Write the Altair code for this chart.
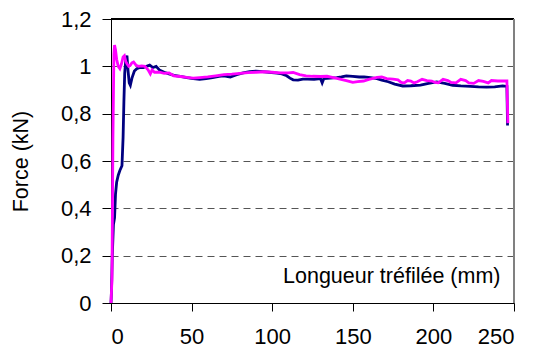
import altair as alt
import pandas as pd

# Navy series (longueur mm, force kN)
navy_x = [0.0, 0.3, 0.8, 1.5, 2.2, 2.8, 3.5, 4.5, 5.5, 6.8, 7.5, 8.0, 8.5, 9.2, 9.9, 10.6, 11.3, 12.0,
          13.0, 14.5, 16.0, 18.0, 20.0, 22.0, 24.0, 26.0, 28.0, 30.0, 33.0, 36.0, 39.0, 43.0, 47.0, 51.0,
          55.0, 59.0, 63.0, 67.0, 70.0, 74.0, 78.0, 82.0, 86.0, 90.0, 94.0, 98.0, 103.0, 106.0, 109.0,
          111.0, 113.0, 116.0, 119.0, 122.0, 126.0, 130.0, 131.0, 132.0, 136.0, 140.0, 143.0, 146.0,
          150.0, 154.0, 157.0, 161.0, 165.0, 168.0, 172.0, 176.0, 181.0, 186.0, 192.0, 197.0, 202.0,
          207.0, 212.0, 217.0, 223.0, 228.0, 233.0, 238.0, 243.0, 245.6, 246.0]
navy_y = [0.0, 0.05, 0.2, 0.33, 0.36, 0.46, 0.51, 0.54, 0.56, 0.58, 0.7, 0.85, 0.97, 1.03, 1.045, 0.98,
          0.93, 0.92, 0.95, 0.98, 0.99, 0.995, 0.995, 1.0, 1.005, 0.995, 1.0, 0.985, 0.975, 0.968, 0.962,
          0.958, 0.952, 0.948, 0.945, 0.948, 0.952, 0.958, 0.96, 0.955, 0.965, 0.972, 0.978, 0.98, 0.978,
          0.975, 0.971, 0.968, 0.96, 0.95, 0.943, 0.942, 0.946, 0.946, 0.945, 0.948, 0.93, 0.948, 0.95,
          0.952, 0.955, 0.96, 0.958, 0.955, 0.955, 0.952, 0.948, 0.942, 0.935, 0.925, 0.917, 0.918, 0.921,
          0.928, 0.934, 0.928, 0.92, 0.917, 0.915, 0.913, 0.912, 0.913, 0.917, 0.915, 0.75]

# Magenta series
mag_x = [0.0, 0.6, 1.2, 1.8, 2.2, 2.8, 3.5, 4.5, 5.5, 6.5, 7.5, 8.3, 9.2, 10.0, 11.0, 12.0, 13.0, 14.0,
         15.5, 17.0, 19.0, 21.0, 23.0, 24.4, 25.5, 27.0, 30.0, 33.0, 36.0, 39.0, 43.0, 47.0, 51.0, 55.0,
         60.0, 65.0, 70.0, 75.0, 80.0, 85.0, 90.0, 95.0, 100.0, 105.0, 110.0, 113.0, 117.0, 121.0, 125.0,
         130.0, 134.0, 138.0, 142.0, 146.0, 150.0, 153.0, 156.7, 160.0, 165.0, 168.0, 171.0, 175.0, 178.0,
         180.0, 182.0, 184.0, 186.0, 188.0, 190.0, 193.0, 196.0, 199.0, 201.0, 203.0, 206.0, 209.0, 211.0,
         214.0, 217.0, 220.0, 222.0, 225.0, 228.0, 231.0, 234.0, 236.0, 240.0, 245.6, 246.2]
mag_y = [0.0, 0.1, 0.7, 1.05, 1.09, 1.07, 1.03, 1.0, 0.99, 1.01, 1.04, 1.045, 1.02, 1.01, 1.0, 1.005,
         1.015, 1.018, 1.005, 1.0, 1.002, 1.0, 0.985, 0.968, 0.985, 0.975, 0.975, 0.97, 0.972, 0.96, 0.957,
         0.953, 0.95, 0.952, 0.955, 0.96, 0.965, 0.967, 0.97, 0.973, 0.975, 0.977, 0.975, 0.972, 0.972,
         0.974, 0.965, 0.96, 0.958, 0.957, 0.958, 0.952, 0.946, 0.94, 0.932, 0.935, 0.938, 0.945, 0.953,
         0.955, 0.948, 0.946, 0.943, 0.932, 0.93, 0.94, 0.938, 0.93, 0.935, 0.945, 0.94, 0.938, 0.932,
         0.93, 0.945, 0.94, 0.932, 0.93, 0.945, 0.94, 0.93, 0.928, 0.94, 0.936, 0.93, 0.94, 0.938, 0.938,
         0.76]

y_ticks = [0, 0.2, 0.4, 0.6, 0.8, 1.0, 1.2]
x_ticks = [0, 50, 100, 150, 200, 250]

rows = []
for i, (x, y) in enumerate(zip(navy_x, navy_y)):
    rows.append({"x": x, "y": y, "s": "A", "i": i})
for i, (x, y) in enumerate(zip(mag_x, mag_y)):
    rows.append({"x": x, "y": y, "s": "B", "i": i})
df = pd.DataFrame(rows)

FONT = "Liberation Sans"
LFS = 22
TFS = 21.5
label_expr = "replace(format(datum.value, '~g'), '.', ',')"

xscale = alt.Scale(domain=[0, 250], nice=False)
yscale = alt.Scale(domain=[0, 1.2], nice=False)

lines = alt.Chart(df).mark_line(strokeWidth=2.8).encode(
    x=alt.X("x:Q", scale=xscale,
            axis=alt.Axis(values=x_ticks, grid=False, title="Longueur tréfilée (mm)",
                          titleX=389, titleY=-21, titleAlign="right", titleBaseline="alphabetic",
                          titleFont=FONT, titleFontSize=TFS, titleFontWeight="normal", titleColor="black",
                          labelFont=FONT, labelFontSize=LFS, labelColor="black", labelPadding=15,
                          tickSize=8, tickColor="black", domainColor="black", labelExpr=label_expr)),
    y=alt.Y("y:Q", scale=yscale,
            axis=alt.Axis(values=y_ticks, grid=True, gridColor="#555555", gridDash=[7, 5], gridWidth=1,
                          title="Force (kN)", titleX=-84, titleY=142, titleAngle=-90, titleAlign="center",
                          titleBaseline="alphabetic",
                          titleFont=FONT, titleFontSize=TFS, titleFontWeight="normal", titleColor="black",
                          labelFont=FONT, labelFontSize=LFS, labelColor="black", labelPadding=11,
                          tickSize=9, tickColor="black", domainColor="black", labelExpr=label_expr)),
    color=alt.Color("s:N", scale=alt.Scale(domain=["A", "B"], range=["#000080", "#FF00FF"]), legend=None),
    order="i:Q",
)

top_rule = alt.Chart(df).mark_rule(color="black", strokeWidth=1.2).encode(
    y=alt.datum(1.2, scale=yscale)
)
right_rule = alt.Chart(df).mark_rule(color="#808080", strokeWidth=1.5).encode(
    x=alt.datum(250, scale=xscale)
)

chart = alt.layer(lines, top_rule, right_rule).properties(
    width=403, height=284,
    autosize=alt.AutoSizeParams(type="none"),
    padding={"left": 103, "top": 11, "right": 16, "bottom": 44},
).configure_view(stroke=None).configure(background="white")

chart.save("out.html", embed_options={"renderer": "svg", "actions": False})
